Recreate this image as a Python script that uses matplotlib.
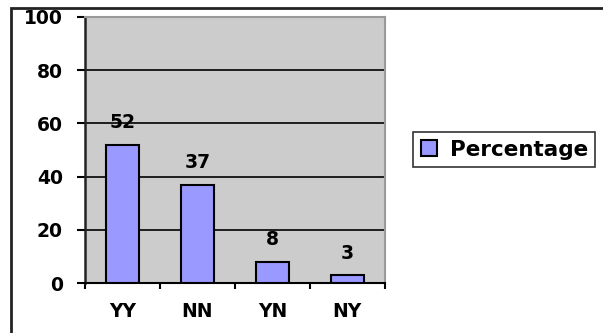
import matplotlib.pyplot as plt
from matplotlib.patches import Rectangle

# Response categories and their percentages
categories = ['YY', 'NN', 'YN', 'NY']
percentage = [52, 37, 8, 3]
y_ticks = [0, 20, 40, 60, 80, 100]

plt.rcParams['font.family'] = 'DejaVu Sans'
plt.rcParams['font.weight'] = 'bold'
fs = 13.5

fig = plt.figure(figsize=(6.03, 3.33), dpi=100)
ax = fig.add_axes([0.141, 0.150, 0.497, 0.799])
ax.set_facecolor('#cccccc')

x = list(range(len(categories)))
bars = ax.bar(x, percentage, width=0.44, color='#9999ff', edgecolor='black',
              linewidth=1.5, label='Percentage', zorder=3)

# value labels above bars
for xi, v in zip(x, percentage):
    ax.annotate(str(v), (xi, v), xytext=(0, 9), textcoords='offset points',
                ha='center', va='bottom', fontsize=fs, fontweight='bold')

ax.set_xlim(-0.5, 3.5)
ax.set_ylim(0, 100)
ax.set_yticks(y_ticks)
ax.set_yticklabels([str(t) for t in y_ticks], fontsize=fs, fontweight='bold')
ax.tick_params(axis='y', length=6, width=1.5, direction='out', pad=10)

# category labels centred, tick marks between categories
ax.set_xticks(x)
ax.set_xticklabels(categories, fontsize=fs, fontweight='bold')
ax.tick_params(axis='x', which='major', length=0, pad=14)
ax.set_xticks([-0.5, 0.5, 1.5, 2.5, 3.5], minor=True)
ax.tick_params(axis='x', which='minor', length=4, width=1.5, direction='out')

ax.grid(axis='y', color='black', linewidth=1.2, zorder=1)
ax.set_axisbelow(True)

ax.spines['left'].set_linewidth(1.8)
ax.spines['left'].set_color('#222222')
ax.spines['bottom'].set_linewidth(1.5)
ax.spines['top'].set_color('#999999')
ax.spines['right'].set_color('#999999')
ax.spines['top'].set_linewidth(1.5)
ax.spines['right'].set_linewidth(1.5)

leg = fig.legend(handles=[bars], labels=['Percentage'], loc='center left',
                 bbox_to_anchor=(0.685, 0.55), frameon=True, fancybox=False,
                 edgecolor='black', prop={'size': 15.5, 'weight': 'bold'},
                 handlelength=0.75, handleheight=0.75, handletextpad=0.6,
                 borderpad=0.35, borderaxespad=0)
leg.get_frame().set_linewidth(1.2)

# outer chart frame (runs past right and bottom edges)
fig.patches.append(Rectangle((0.019, -0.1), 1.1, 0.076 + 1.0, transform=fig.transFigure,
                             fill=False, edgecolor='#222222', linewidth=2))

fig.savefig('out.png', dpi=100)
